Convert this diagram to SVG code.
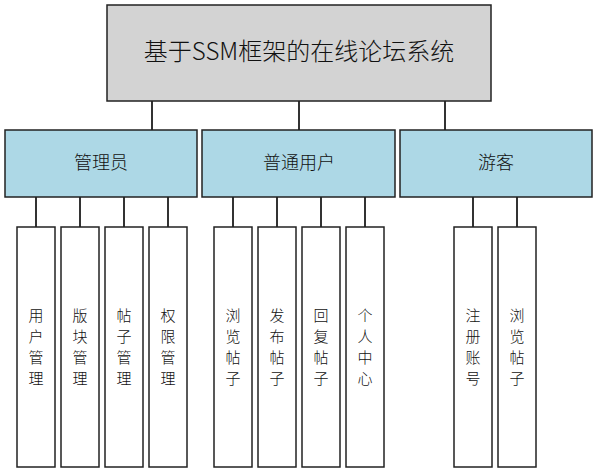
<svg xmlns="http://www.w3.org/2000/svg" width="597" height="473" viewBox="0 0 597 473">
<style>
.box{stroke:#222;stroke-width:1.5}
.root{fill:#d3d3d3}
.role{fill:#add8e6}
.leaf{fill:#fff}
.t{font-family:"Noto Sans CJK SC","Liberation Sans",sans-serif;font-weight:300;fill:#111;text-anchor:middle}
.c{stroke:#333;stroke-width:2;fill:none}
</style>
<rect width="597" height="473" fill="#fff"/>
<g id="connectors">
<path class="c" d="M152,101V130M299,101V130M445,101V130"/>
<path class="c" d="M36,197V227M80,197V227M124,197V227M168,197V227"/>
<path class="c" d="M233,197V227M277,197V227M321,197V227M365,197V227"/>
<path class="c" d="M473,197V227M517,197V227"/>
</g>
<g id="root"><rect class="box root" x="107" y="5" width="384" height="96"/><text class="t" x="299" y="60" font-size="24">基于SSM框架的在线论坛系统</text></g>
<g id="admin"><rect class="box role" x="5" y="130" width="192" height="67"/><text class="t" x="101" y="169" font-size="18">管理员</text></g>
<g id="user"><rect class="box role" x="202" y="130" width="193" height="67"/><text class="t" x="299" y="169" font-size="18">普通用户</text></g>
<g id="guest"><rect class="box role" x="400" y="130" width="192" height="67"/><text class="t" x="496" y="169" font-size="18">游客</text></g>
<g id="leaf1"><rect class="box leaf" x="17" y="227" width="38" height="240"/><text class="t" font-size="15"><tspan x="36" y="321">用</tspan><tspan x="36" y="342">户</tspan><tspan x="36" y="363">管</tspan><tspan x="36" y="384">理</tspan></text></g>
<g id="leaf2"><rect class="box leaf" x="61" y="227" width="38" height="240"/><text class="t" font-size="15"><tspan x="80" y="321">版</tspan><tspan x="80" y="342">块</tspan><tspan x="80" y="363">管</tspan><tspan x="80" y="384">理</tspan></text></g>
<g id="leaf3"><rect class="box leaf" x="105" y="227" width="38" height="240"/><text class="t" font-size="15"><tspan x="124" y="321">帖</tspan><tspan x="124" y="342">子</tspan><tspan x="124" y="363">管</tspan><tspan x="124" y="384">理</tspan></text></g>
<g id="leaf4"><rect class="box leaf" x="149" y="227" width="38" height="240"/><text class="t" font-size="15"><tspan x="168" y="321">权</tspan><tspan x="168" y="342">限</tspan><tspan x="168" y="363">管</tspan><tspan x="168" y="384">理</tspan></text></g>
<g id="leaf5"><rect class="box leaf" x="214" y="227" width="38" height="240"/><text class="t" font-size="15"><tspan x="233" y="321">浏</tspan><tspan x="233" y="342">览</tspan><tspan x="233" y="363">帖</tspan><tspan x="233" y="384">子</tspan></text></g>
<g id="leaf6"><rect class="box leaf" x="258" y="227" width="38" height="240"/><text class="t" font-size="15"><tspan x="277" y="321">发</tspan><tspan x="277" y="342">布</tspan><tspan x="277" y="363">帖</tspan><tspan x="277" y="384">子</tspan></text></g>
<g id="leaf7"><rect class="box leaf" x="302" y="227" width="38" height="240"/><text class="t" font-size="15"><tspan x="321" y="321">回</tspan><tspan x="321" y="342">复</tspan><tspan x="321" y="363">帖</tspan><tspan x="321" y="384">子</tspan></text></g>
<g id="leaf8"><rect class="box leaf" x="346" y="227" width="38" height="240"/><text class="t" font-size="15"><tspan x="365" y="321">个</tspan><tspan x="365" y="342">人</tspan><tspan x="365" y="363">中</tspan><tspan x="365" y="384">心</tspan></text></g>
<g id="leaf9"><rect class="box leaf" x="454" y="227" width="38" height="240"/><text class="t" font-size="15"><tspan x="473" y="321">注</tspan><tspan x="473" y="342">册</tspan><tspan x="473" y="363">账</tspan><tspan x="473" y="384">号</tspan></text></g>
<g id="leaf10"><rect class="box leaf" x="498" y="227" width="38" height="240"/><text class="t" font-size="15"><tspan x="517" y="321">浏</tspan><tspan x="517" y="342">览</tspan><tspan x="517" y="363">帖</tspan><tspan x="517" y="384">子</tspan></text></g>
</svg>
